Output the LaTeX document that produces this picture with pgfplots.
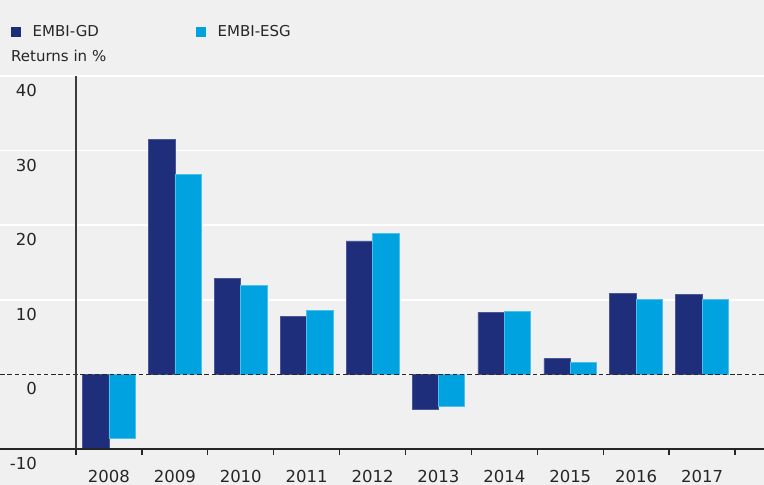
\documentclass[border=0pt]{standalone}
\usepackage{fontspec}
\setmainfont{DejaVu Sans}
\usepackage{pgfplots}
\pgfplotsset{compat=1.18}
\definecolor{bg}{HTML}{F0F0F0}
\definecolor{gd}{HTML}{1E2E7B}
\definecolor{gdedge}{HTML}{4B5796}
\definecolor{esg}{HTML}{00A3E0}
\definecolor{esgedge}{HTML}{4CC0EC}
\definecolor{axisgray}{HTML}{262626}
\begin{document}
\begin{tikzpicture}
\useasboundingbox (0,-36bp) rectangle (764bp,449bp);
\fill[bg] (0,-36bp) rectangle (764bp,449bp);
\begin{axis}[
  name=ax,
  at={(0,0)}, anchor=south west,
  scale only axis, width=764bp, height=373bp,
  xmin=-1.6533, xmax=9.9401, ymin=-10, ymax=40,
  axis x line*=bottom, axis y line*=left,
  axis line style={-},
  x axis line style={axisgray, line width=1.2bp},
  y axis line style={draw=none},
  ybar, bar width=0.4,
  xtick={-0.5,0.5,...,9.5},
  x tick label as interval,
  xticklabels={2008,2009,2010,2011,2012,2013,2014,2015,2016,2017},
  xtick style={axisgray, line width=1.3bp},
  major tick length=6bp,
  tick align=outside,
  ytick={-10,0,10,20,30,40},
  ytick style={draw=none},
  ymajorgrids, y grid style={white, line width=1.6bp},
  /pgf/number format/assume math mode=true,
  yticklabel style={anchor=north east, inner sep=0pt, xshift=43bp, yshift=-8bp,
    font=\fontsize{16.5bp}{19bp}\selectfont, text=black!85},
  xticklabel style={anchor=north, inner sep=0pt, yshift=-15bp,
    font=\fontsize{16.5bp}{19bp}\selectfont, text=black!85},
  legend style={at={(axis description cs:0,1)}, anchor=west, xshift=11bp, yshift=44.5bp,
    draw=none, fill=none, inner sep=0pt, outer sep=0pt,
    font=\fontsize{15bp}{18bp}\selectfont, text=black!85,
    /tikz/every odd column/.append style={column sep=12bp},
    /tikz/every even column/.append style={column sep=97bp},
    nodes={inner sep=0pt}},
  legend columns=2,
  legend cell align=left,
]
\addplot[fill=gd, draw=gdedge, line width=0.7bp, bar shift=-0.2,
  legend image code/.code={\fill[gd] (0bp,-4.5bp) rectangle (9bp,4.5bp);}]
  coordinates {(0,-10.9) (1,31.5) (2,12.9) (3,7.8) (4,17.9) (5,-4.7) (6,8.3) (7,2.1) (8,10.8) (9,10.7)};
\addlegendentry{EMBI-GD}
\addplot[fill=esg, draw=esgedge, line width=0.7bp, bar shift=0.2,
  legend image code/.code={\fill[esg] (0bp,-4.5bp) rectangle (9bp,4.5bp);}]
  coordinates {(0,-8.6) (1,26.8) (2,11.9) (3,8.6) (4,18.9) (5,-4.3) (6,8.4) (7,1.6) (8,10.0) (9,10.1)};
\addlegendentry{EMBI-ESG}
\draw[axisgray, line width=1.5bp, dash pattern=on 4.5bp off 2.8bp] (axis cs:-1.6533,0) -- (axis cs:9.9401,0);
\draw[axisgray!90, line width=1.3bp] (axis cs:-0.5,-10) -- (axis cs:-0.5,40);
\draw[axisgray, line width=1.2bp] (axis cs:-1.6533,-10) -- (axis cs:9.9401,-10);
\end{axis}
\node[anchor=west, inner sep=0pt, font=\fontsize{15bp}{18bp}\selectfont, text=black!85]
  at ([xshift=11bp, yshift=19.7bp]ax.north west) {Returns in \%};
\end{tikzpicture}
\end{document}
